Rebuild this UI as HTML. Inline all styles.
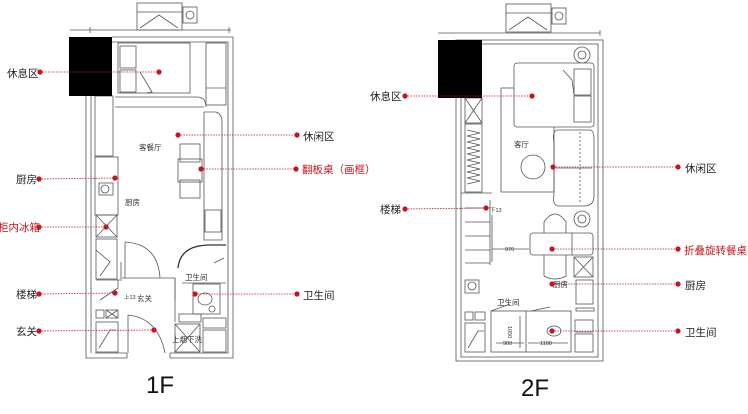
<!DOCTYPE html>
<html><head><meta charset="utf-8">
<style>
html,body{margin:0;padding:0;background:#fff;}
svg{display:block;}
text{font-family:"Liberation Sans","Noto Sans CJK SC",sans-serif;}
</style></head>
<body>
<svg width="748" height="414" viewBox="0 0 748 414" xmlns="http://www.w3.org/2000/svg">
<rect width="748" height="414" fill="#fff"/>
<g fill="none" stroke="#555" stroke-width="0.8">
<!-- ===== 1F ===== -->
<rect x="137" y="3" width="45" height="27"/>
<line x1="137" y1="12" x2="182" y2="12"/>
<polyline points="140,28 159,15 178,28"/>
<rect x="183" y="7" width="14" height="16"/>
<circle cx="190" cy="15" r="4"/>
<line x1="70" y1="30" x2="231" y2="30"/>
<line x1="90" y1="27" x2="90" y2="33"/>
<line x1="229" y1="27" x2="229" y2="33"/>
<polyline points="127,358 86,358 86,96"/>
<polyline points="91,353 91,96"/>
<polyline points="170,358 233,358 233,37 112,37"/>
<polyline points="127,353 95,353"/>
<polyline points="170,353 228,353 228,42 112,42"/>
<line x1="127" y1="353" x2="127" y2="358"/>
<line x1="170" y1="353" x2="170" y2="358"/>
<rect x="118" y="43" width="72" height="50"/>
<rect x="120" y="46" width="16" height="22"/>
<rect x="120" y="70" width="16" height="22"/>
<polyline points="140,72 152,92 146,93"/>
<rect x="206" y="43" width="20" height="62"/>
<line x1="206" y1="88" x2="226" y2="88"/>
<path d="M115,97 L198,97 Q206,98 206,107"/>
<line x1="115" y1="107" x2="204" y2="107"/>
<rect x="95" y="96" width="18" height="60"/>
<rect x="95" y="157" width="23" height="58"/>
<rect x="99" y="183" width="14" height="12"/>
<circle cx="105" cy="189" r="4"/>
<rect x="96" y="215" width="21" height="22"/>
<line x1="96" y1="215" x2="117" y2="237"/><line x1="117" y1="215" x2="96" y2="237"/>
<rect x="96" y="239" width="21" height="40"/>
<polyline points="96,250 110,262 100,276"/>
<line x1="121" y1="262" x2="121" y2="279"/>
<line x1="96" y1="280" x2="122" y2="280"/>
<polyline points="100,300 118,288 118,280"/>
<rect x="96" y="310" width="8" height="8"/>
<rect x="106" y="310" width="12" height="8"/>
<line x1="106" y1="310" x2="118" y2="318"/><line x1="118" y1="310" x2="106" y2="318"/>
<rect x="96" y="322" width="22" height="30"/>
<polyline points="99,348 110,330 116,330"/>
<path d="M204,112 L216,112 Q222,114 222,122 L222,240 L204,240 Z"/>
<rect x="205" y="210" width="16" height="22"/>
<rect x="180" y="144" width="20" height="18"/>
<rect x="178" y="159" width="24" height="23"/>
<rect x="180" y="180" width="20" height="18"/>
<line x1="125" y1="242" x2="125" y2="278"/>
<path d="M125,242 Q158,244 160,278"/>
<polyline points="122,278 160,278 175,278 175,300"/>
<line x1="175" y1="278" x2="175" y2="322"/>
<path d="M178,268 Q180,246 208,245 L226,245" stroke-width="1.3" stroke="#333"/>
<line x1="182" y1="283" x2="226" y2="283"/>
<rect x="193" y="284" width="27" height="30"/>
<ellipse cx="205" cy="299" rx="7" ry="6"/>
<circle cx="212" cy="309" r="3"/>
<rect x="179" y="314" width="22" height="8"/>
<rect x="175" y="324" width="25" height="28"/>
<line x1="175" y1="324" x2="200" y2="352"/><line x1="200" y1="324" x2="175" y2="352"/>
<rect x="203" y="318" width="23" height="10"/>
<rect x="203" y="330" width="23" height="22"/>
<line x1="128" y1="315" x2="128" y2="353"/>
<path d="M128,315 Q158,318 165,353"/>
<line x1="224" y1="258" x2="214" y2="263"/>
<!-- ===== 2F ===== -->
<rect x="506" y="4" width="45" height="28"/>
<line x1="506" y1="13" x2="551" y2="13"/>
<polyline points="509,30 528,17 547,30"/>
<rect x="552" y="8" width="14" height="16"/>
<circle cx="559" cy="16" r="4"/>
<line x1="438" y1="33" x2="600" y2="33"/>
<line x1="600" y1="30" x2="600" y2="36"/>
<rect x="456" y="40" width="147" height="321"/>
<rect x="461" y="44" width="137" height="313"/>
<circle cx="582" cy="55" r="8"/><circle cx="582" cy="55" r="4"/>
<circle cx="582" cy="219" r="8"/><circle cx="582" cy="219" r="4"/>
<rect x="501" y="88" width="53" height="104"/>
<rect x="514" y="63" width="80" height="64" rx="3" fill="#fff"/>
<rect x="574" y="69" width="17" height="26"/>
<rect x="574" y="96" width="17" height="26"/>
<polyline points="563,70 572,80 574,95"/>
<path d="M557,130 L590,130 Q594,130 594,140 L594,196 Q594,206 584,206 L558,206 Q552,204 554,195 L554,143 Q552,131 557,130Z"/>
<line x1="580" y1="132" x2="580" y2="204" stroke-dasharray="2,2"/>
<line x1="556" y1="168" x2="592" y2="168"/>
<circle cx="533" cy="167" r="12"/>
<rect x="465" y="98" width="17" height="25"/>
<line x1="465" y1="98" x2="482" y2="123"/><line x1="482" y1="98" x2="465" y2="123"/>
<rect x="465" y="124" width="17" height="68"/>
<polyline points="467,130 480,133 467,136 480,139 467,142 480,145 467,148 480,151 467,154 480,157 467,160 480,163 467,166 480,169 467,172 480,175 467,178 480,181 467,184"/>
<line x1="461" y1="193" x2="492" y2="193"/>
<line x1="465" y1="208" x2="490" y2="208"/>
<line x1="465" y1="222" x2="490" y2="222"/>
<line x1="465" y1="236" x2="490" y2="236"/>
<line x1="465" y1="250" x2="490" y2="250"/>
<line x1="465" y1="263" x2="490" y2="263"/>
<line x1="490" y1="200" x2="490" y2="265"/>
<line x1="492" y1="215" x2="492" y2="262"/>
<line x1="492" y1="249" x2="529" y2="249"/>
<path d="M544,276 L544,222 Q555,206 566,222 L566,276 Q555,282 544,276Z"/>
<rect x="530" y="233" width="63" height="22" rx="3" fill="#fff"/>
<line x1="572" y1="233" x2="572" y2="255"/>
<rect x="574" y="257" width="19" height="20"/>
<line x1="574" y1="257" x2="593" y2="277"/><line x1="593" y1="257" x2="574" y2="277"/>
<rect x="576" y="280" width="17" height="24"/>
<rect x="465" y="280" width="14" height="13"/>
<circle cx="472" cy="286" r="4"/>
<rect x="491" y="311" width="80" height="41"/>
<line x1="526" y1="311" x2="526" y2="352"/>
<line x1="491" y1="311" x2="510" y2="304"/>
<line x1="531" y1="311" x2="550" y2="307"/>
<ellipse cx="554" cy="331" rx="7" ry="5"/>
<rect x="465" y="312" width="8" height="8"/><rect x="475" y="312" width="10" height="8"/>
<rect x="465" y="323" width="20" height="29"/>
<polyline points="468,348 478,331 484,331"/>
<rect x="576" y="308" width="18" height="3"/>
<rect x="575" y="320" width="18" height="12"/>
<rect x="575" y="334" width="18" height="18"/>
<line x1="496" y1="343" x2="524" y2="343"/>
<line x1="528" y1="343" x2="568" y2="343"/>
<line x1="520" y1="316" x2="520" y2="348"/>
</g>
<rect x="69" y="37" width="43" height="59" fill="#000"/>
<rect x="438" y="40" width="44" height="58" fill="#000"/>
<g stroke="#c8151b" stroke-width="0.8" stroke-dasharray="1.5,1.2" fill="none">
<line x1="40" y1="72" x2="159" y2="72"/>
<line x1="178" y1="135" x2="297" y2="135"/>
<line x1="201" y1="169" x2="296" y2="169"/>
<line x1="39" y1="179" x2="115" y2="178"/>
<line x1="39" y1="227" x2="106" y2="227"/>
<line x1="39" y1="294" x2="115" y2="293"/>
<line x1="195" y1="294" x2="297" y2="294"/>
<line x1="39" y1="331" x2="154" y2="330"/>
<line x1="405" y1="96" x2="532" y2="96"/>
<line x1="553" y1="167" x2="678" y2="167"/>
<line x1="405" y1="209" x2="486" y2="208"/>
<line x1="552" y1="249" x2="678" y2="249"/>
<line x1="552" y1="284" x2="678" y2="284"/>
<line x1="552" y1="331" x2="678" y2="331"/>
</g>
<g fill="#c8151b">
<circle cx="40" cy="72" r="2.6"/><circle cx="159" cy="72" r="2.6"/>
<circle cx="178" cy="135" r="2.6"/><circle cx="297" cy="135" r="2.6"/>
<circle cx="201" cy="169" r="2.6"/><circle cx="296" cy="169" r="2.6"/>
<circle cx="39" cy="179" r="2.6"/><circle cx="115" cy="178" r="2.6"/>
<circle cx="39" cy="227" r="2.6"/><circle cx="106" cy="227" r="2.6"/>
<circle cx="39" cy="294" r="2.6"/><circle cx="115" cy="293" r="2.6"/>
<circle cx="195" cy="294" r="2.6"/><circle cx="297" cy="294" r="2.6"/>
<circle cx="39" cy="331" r="2.6"/><circle cx="154" cy="330" r="2.6"/>
<circle cx="405" cy="96" r="2.6"/><circle cx="532" cy="96" r="2.6"/>
<circle cx="553" cy="167" r="2.6"/><circle cx="678" cy="167" r="2.6"/>
<circle cx="405" cy="209" r="2.6"/><circle cx="486" cy="208" r="2.6"/>
<circle cx="552" cy="249" r="2.6"/><circle cx="678" cy="249" r="2.6"/>
<circle cx="552" cy="284" r="2.6"/><circle cx="678" cy="284" r="2.6"/>
<circle cx="552" cy="331" r="2.6"/><circle cx="678" cy="331" r="2.6"/>
</g>
<g font-size="10.5" fill="#222">
<text x="7" y="77">休息区</text>
<text x="303" y="140">休闲区</text>
<text x="16" y="183">厨房</text>
<text x="16" y="298">楼梯</text>
<text x="303" y="299">卫生间</text>
<text x="16" y="335">玄关</text>
<text x="370" y="100">休息区</text>
<text x="685" y="172">休闲区</text>
<text x="380" y="213">楼梯</text>
<text x="685" y="289">厨房</text>
<text x="685" y="336">卫生间</text>
</g>
<g font-size="10.5" fill="#c8151b">
<text x="302" y="173">翻板桌（画框）</text>
<text x="-2" y="231">柜内冰箱</text>
<text x="684" y="254">折叠旋转餐桌</text>
</g>
<g font-size="7.5" fill="#333">
<text x="139" y="150">客餐厅</text>
<text x="125" y="205">厨房</text>
<text x="185" y="280">卫生间</text>
<text x="137" y="301">玄关</text>
<text x="172" y="342">上烟下洗</text>
<text x="514" y="147">客厅</text>
<text x="553" y="287">厨房</text>
<text x="497" y="305">卫生间</text>
</g>
<g font-size="5.5" fill="#333">
<text x="124" y="299">上13</text>
<text x="490" y="212">下13</text>
<text x="505" y="251">970</text>
<text x="503" y="345">900</text>
<text x="540" y="345">1100</text>
<text x="518" y="336" transform="rotate(90 518 326)">1050</text>
</g>
<text x="146" y="393" font-size="24" fill="#111">1F</text>
<text x="521" y="396" font-size="24" fill="#111">2F</text>
</svg>
</body></html>
